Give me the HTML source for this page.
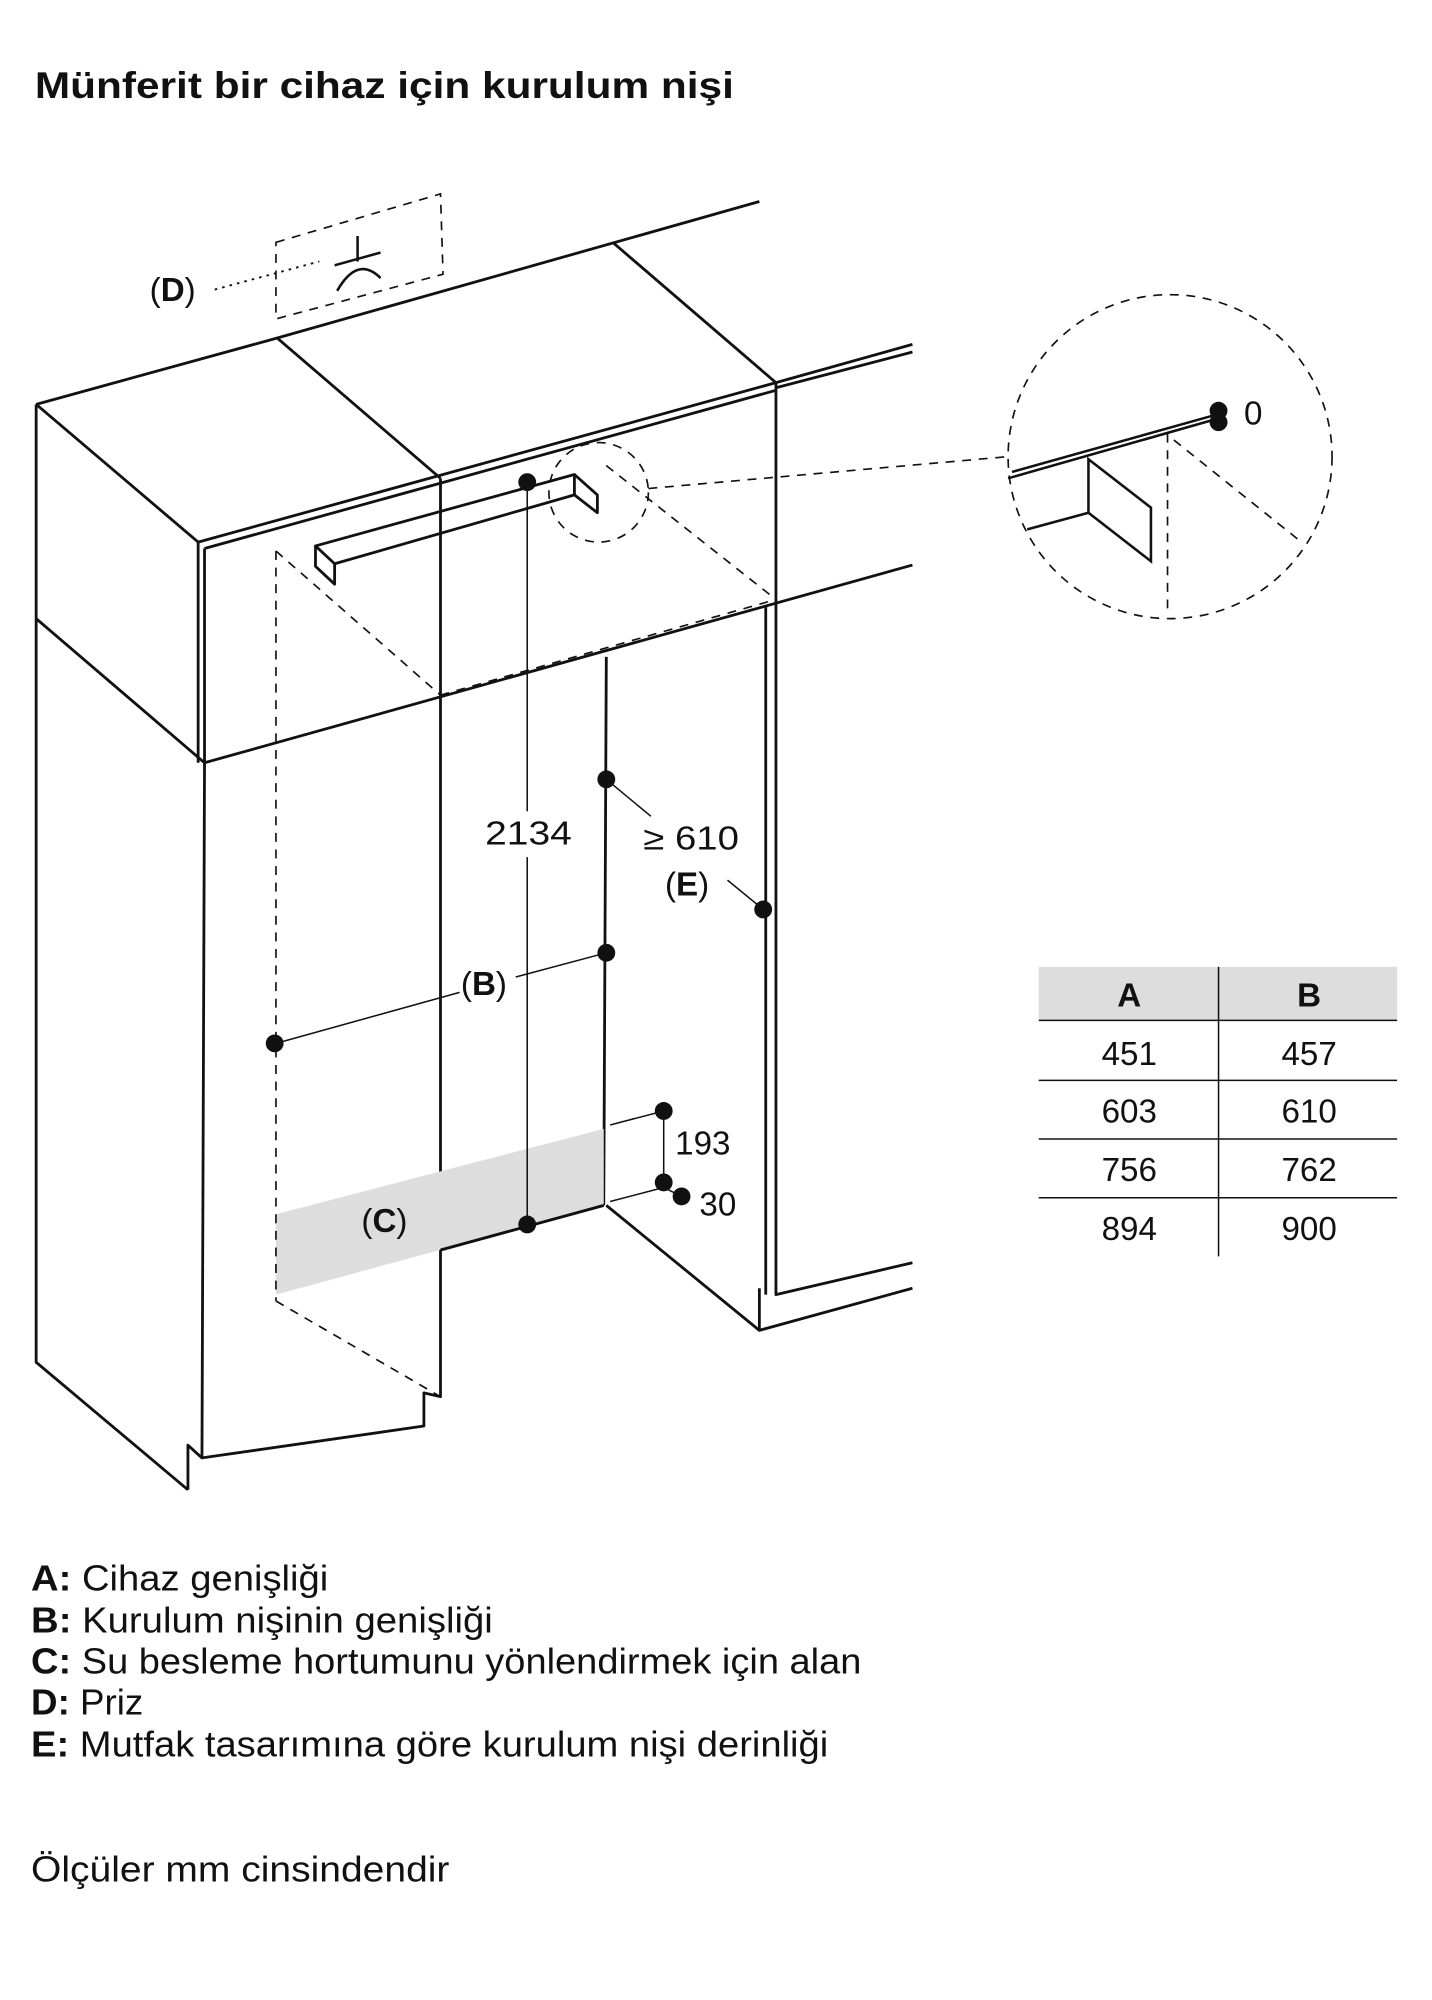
<!DOCTYPE html>
<html><head><meta charset="utf-8"><style>
html,body{margin:0;padding:0;background:#fff}
svg{display:block}
text{font-family:"Liberation Sans",sans-serif;fill:#111}
</style></head><body>
<svg width="1432" height="2000" viewBox="0 0 1122 1568" xmlns="http://www.w3.org/2000/svg">
<text x="27" y="77" font-size="29" font-weight="bold" textLength="548" lengthAdjust="spacingAndGlyphs">Münferit bir cihaz için kurulum nişi</text>

<g stroke="#111" stroke-width="2.2" fill="none" stroke-linejoin="round">
<path d="M28,317 L217,265 L595,158"/>
<path d="M217,265 L345,375"/>
<path d="M480,190 L608,300"/>
<path d="M28,317 L155,425"/>
<path d="M155,425 L608,300 L715,270"/>
<path d="M608,304 L715,276"/>
<path d="M160,430 L608,306"/>
<path d="M155,425 L155,598"/>
<path d="M160,430 L160,598"/>
<path d="M160,598 L715,443"/>
<path d="M608,300 L608,470"/>
<path d="M28,317 L28,1068 L147,1168"/>
<path d="M28,485 L160,598"/>
<path d="M160,598 L158,1143"/>
<path d="M147,1168 L147,1133 L158,1143 L332,1118 L332,1092 L345,1095 L345,375"/>
<path d="M608,470 L608,1015 L715,990"/>
<path d="M600,475 L600,1015"/>
<path d="M595,1010 L595,1043 L715,1010"/>
<path d="M595,1043 L475,945"/>
<path d="M475,515 L473,945"/>
<path d="M345,980 L473,945"/>
<path d="M247,428 L450,372 L450,388 L262,442 Z"/>
<path d="M247,428 L247,444 L262,458 L262,442"/>
<path d="M450,372 L468,388 L468,402 L450,388"/>
</g>

<path d="M216,952 L473,885 L473,945 L216,1015 Z" fill="#ddd"/>
<path d="M345,980 L473,945" stroke="#111" stroke-width="2.2"/>

<g stroke="#111" stroke-width="1.3" fill="none" stroke-dasharray="7,6">
<path d="M216,432 L216,1020"/>
<path d="M216,432 L345,545"/>
<path d="M345,545 L608,470"/>
<path d="M475,365 L608,470"/>
<path d="M216,1020 L345,1095"/>
<path d="M216,190 L345,152 L347,215 L216,250 Z"/>
<circle cx="469" cy="386" r="39"/>
<circle cx="917" cy="358" r="127"/>
<path d="M508,383 L790,358"/>
<path d="M915,340 L915,478"/>
<path d="M920,345 L1020,425"/>
</g>
<path d="M168,227 L250,205" stroke="#111" stroke-width="1.5" stroke-dasharray="2,4"/>
<g stroke="#111" stroke-width="2" fill="none">
<path d="M280,185 L280,205 M262,208 L298,198"/>
<path d="M264,228 Q280,200 298,218"/>
<path d="M790,375 L955,328 M793,370 L950,326"/>
<path d="M805,415 L853,402 L853,360 L902,398 L902,440 L853,402"/>
</g>

<g stroke="#111" stroke-width="1.2" fill="none">
<path d="M413,378 L413,636 M413,672 L413,960"/>
<path d="M475,611 L510,640"/>
<path d="M216,818 L360,778 M404,766 L475,747"/>
<path d="M598,713 L570,690"/>
<path d="M478,882 L520,871 L520,927"/>
<path d="M478,942 L520,931 L534,938"/>
</g>
<g fill="#111">
<circle cx="413" cy="378" r="7"/><circle cx="413" cy="960" r="7"/>
<circle cx="475" cy="611" r="7"/><circle cx="475" cy="747" r="7"/>
<circle cx="598" cy="713" r="7"/><circle cx="215" cy="818" r="7"/>
<circle cx="520" cy="871" r="7"/><circle cx="520" cy="927" r="7"/>
<circle cx="534" cy="938" r="7"/>
<circle cx="955" cy="322" r="7"/><circle cx="955" cy="331" r="7"/>
</g>

<g font-size="26">
<text x="117" y="236">(<tspan font-weight="bold">D</tspan>)</text>
<text x="380" y="662" textLength="68" lengthAdjust="spacingAndGlyphs">2134</text>
<text x="504" y="666" textLength="75" lengthAdjust="spacingAndGlyphs">≥ 610</text>
<text x="521" y="702">(<tspan font-weight="bold">E</tspan>)</text>
<text x="361" y="780">(<tspan font-weight="bold">B</tspan>)</text>
<text x="283" y="966">(<tspan font-weight="bold">C</tspan>)</text>
<text x="529" y="905">193</text>
<text x="548" y="953">30</text>
<text x="975" y="333">0</text>
</g>

<rect x="814" y="758" width="281" height="42" fill="#ddd"/>
<g stroke="#111" stroke-width="1.2">
<path d="M814,800 L1095,800 M814,847 L1095,847 M814,893 L1095,893 M814,939 L1095,939"/>
<path d="M955,758 L955,985"/>
</g>
<g font-size="26" text-anchor="middle">
<text x="885" y="789" font-weight="bold">A</text><text x="1026" y="789" font-weight="bold">B</text>
<text x="885" y="835">451</text><text x="1026" y="835">457</text>
<text x="885" y="880">603</text><text x="1026" y="880">610</text>
<text x="885" y="926">756</text><text x="1026" y="926">762</text>
<text x="885" y="972">894</text><text x="1026" y="972">900</text>
</g>

<g font-size="28" lengthAdjust="spacingAndGlyphs">
<text x="24" y="1247" textLength="233" lengthAdjust="spacingAndGlyphs"><tspan font-weight="bold">A:</tspan> Cihaz genişliği</text>
<text x="24" y="1280" textLength="362" lengthAdjust="spacingAndGlyphs"><tspan font-weight="bold">B:</tspan> Kurulum nişinin genişliği</text>
<text x="24" y="1312" textLength="651" lengthAdjust="spacingAndGlyphs"><tspan font-weight="bold">C:</tspan> Su besleme hortumunu yönlendirmek için alan</text>
<text x="24" y="1344" textLength="88" lengthAdjust="spacingAndGlyphs"><tspan font-weight="bold">D:</tspan> Priz</text>
<text x="24" y="1377" textLength="625" lengthAdjust="spacingAndGlyphs"><tspan font-weight="bold">E:</tspan> Mutfak tasarımına göre kurulum nişi derinliği</text>
<text x="24" y="1475" textLength="328" lengthAdjust="spacingAndGlyphs">Ölçüler mm cinsindendir</text>
</g>
</svg>
</body></html>
